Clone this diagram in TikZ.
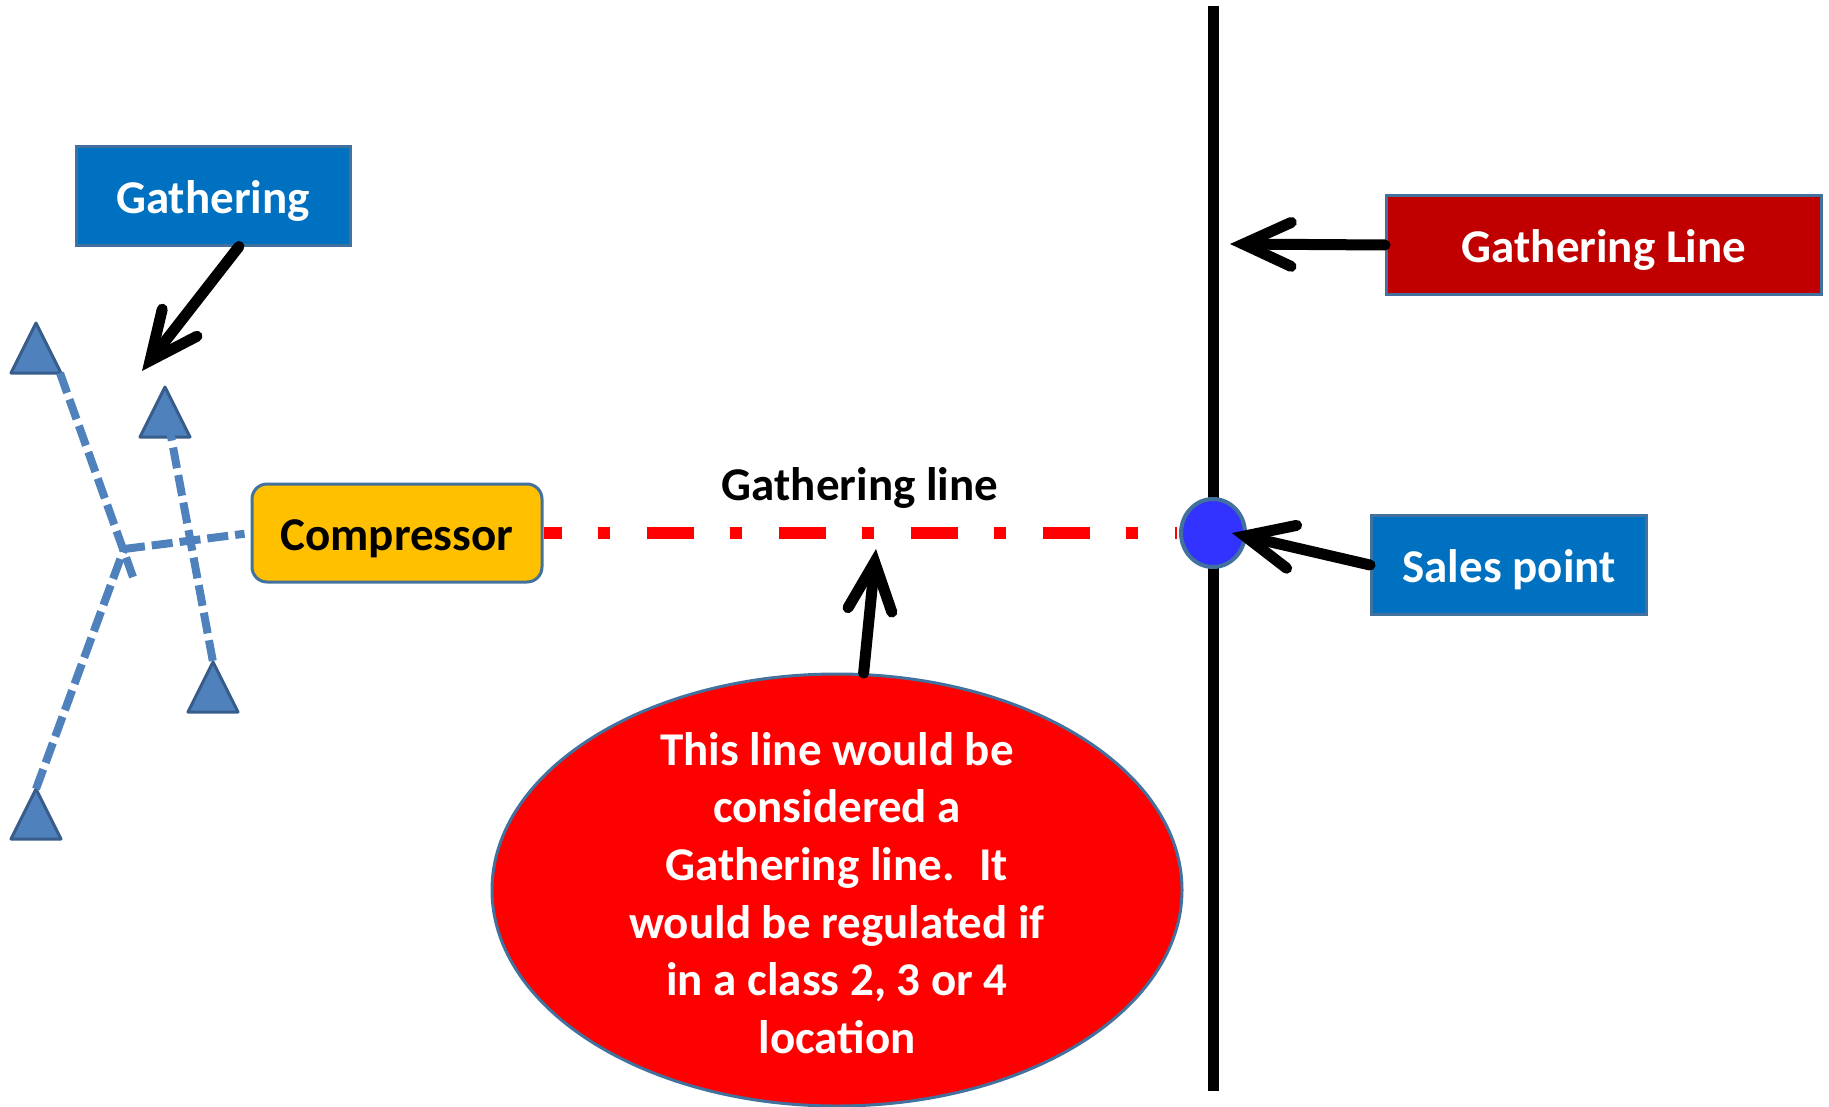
\documentclass[tikz,border=0pt]{standalone}
\usepackage{fontspec}
\setmainfont{Carlito}
\usetikzlibrary{arrows.meta,shapes.geometric}
\definecolor{boxblue}{HTML}{0070C0}
\definecolor{edgeblue}{HTML}{41719C}
\definecolor{wellblue}{HTML}{4F81BD}
\definecolor{welledge}{HTML}{385D8A}
\definecolor{boxred}{HTML}{C00000}
\definecolor{compyellow}{HTML}{FFC000}
\definecolor{salepoint}{HTML}{3333FF}
\tikzset{
well/.pic={
  \draw[draw=welledge, fill=wellblue, line width=1.5pt, line join=round] (0,0) -- (25,50) -- (-25,50) -- cycle;
  \coordinate (-apex) at (0,0);
  \coordinate (-mid) at (3,33);
  \coordinate (-br) at (24,50);
  },
bigfont/.style={font=\bfseries\fontsize{23.5}{28.85}\selectfont},
tag/.style={draw=edgeblue, line width=1.5pt, text=white, bigfont, minimum height=49pt, inner sep=0pt,
  text height=17.5pt, text depth=0pt},
pipe/.style={draw=wellblue, line width=4pt, dash pattern=on 10.5pt off 3.5pt},
arr/.style={line width=5.5pt, line cap=round,
  -{Straight Barb[length=24pt,width=22pt,line cap=round,line join=miter]}}
}
\begin{document}
\begin{tikzpicture}[x=0.5pt, y=-0.5pt]
\useasboundingbox (0,0) rectangle (1829,1107);
\pic (w1) at (36,323) {well};
\pic (w2) at (165,387) {well};
\pic (w3) at (213,662) {well};
\pic (w4) at (36,789) {well};
\coordinate (jct) at (124,549);
\coordinate (overrun) at (133,577);
\node[tag, fill=boxblue, minimum width=137pt] (gath) at (213,196) {Gathering};
\node[tag, text=black, fill=compyellow, rounded corners=7.5pt, minimum width=145pt] (comp) at (397,533) {Compressor};
\node[tag, fill=boxred, minimum width=217.5pt] (gline) at (1604,245) {Gathering Line};
\node[tag, fill=boxblue, minimum width=137.5pt, minimum height=49.5pt] (sales) at (1509,565) {Sales point};
\node[ellipse, draw=edgeblue, line width=1.5pt, fill=red, minimum width=345pt, minimum height=216pt] (note) at (837,890) {};
\node[bigfont, text=white, align=center] (notetext) at (837,893)
  {This line would be\\ considered a\\ Gathering line.~ It\\ would be regulated if\\ in a class 2, 3 or 4\\ location};
\node[bigfont] (gllabel) at (860,488) {Gathering line};
\draw[pipe] (w1-br) -- (overrun);
\draw[pipe] (w4-apex) -- (jct);
\draw[pipe, shorten >=3pt] (jct) -- (comp.west);
\draw[pipe] (w2-mid) -- (w3-apex);
\coordinate (vtop) at (1213,6);
\coordinate (vbot) at (1213,1091);
\draw[line width=5.5pt] (vtop) -- (vbot);
\node[ellipse, draw=edgeblue, line width=2pt, fill=salepoint, minimum width=32pt, minimum height=34pt, inner sep=0pt] (sale) at (1213,533) {};
\draw[red, line width=6pt, dash pattern=on 23.5pt off 18pt on 6pt off 18.5pt, dash phase=14.5pt, shorten >=1pt] (comp.east) -- (sale.west);
\coordinate (gtip) at (142,371);
\coordinate (gltip) at (1230,244);
\coordinate (stip) at (1232,533);
\coordinate (ntip) at (876,549);
\draw[arr] ([xshift=13pt]gath.south) -- (gtip);
\draw[arr] (gline.west) -- (gltip);
\draw[arr] (sales.west) -- (stip);
\draw[arr] (note.83) -- (ntip);
\end{tikzpicture}
\end{document}
